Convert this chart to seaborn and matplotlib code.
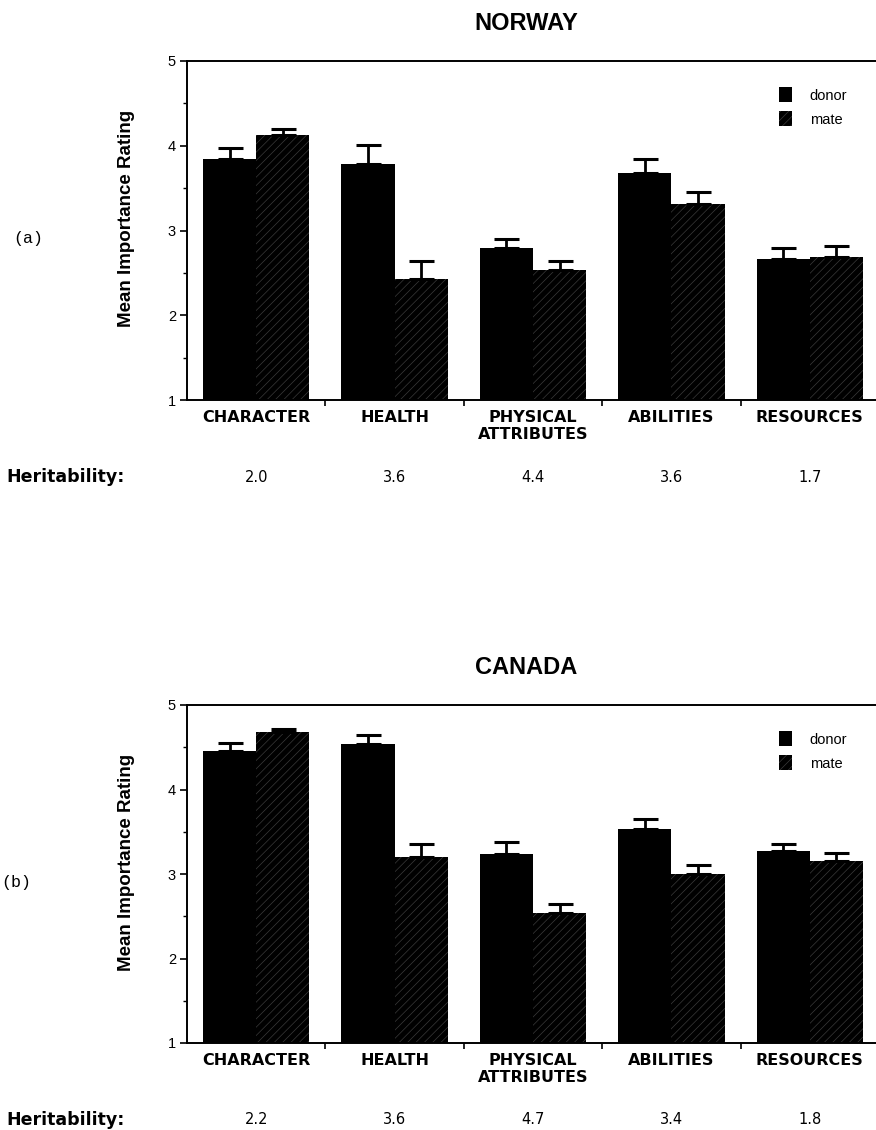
import numpy as np
import pandas as pd
import matplotlib
matplotlib.use("Agg")
import matplotlib.pyplot as plt
import matplotlib.transforms as mtransforms
import seaborn as sns
from matplotlib.ticker import MultipleLocator, FixedLocator

# ---- data ----
categories = ["CHARACTER", "HEALTH", "PHYSICAL\nATTRIBUTES", "ABILITIES", "RESOURCES"]
series = ["donor", "mate"]

norway_donor = [3.84, 3.79, 2.79, 3.68, 2.66]
norway_mate = [4.13, 2.43, 2.53, 3.31, 2.69]
norway_donor_err = [0.13, 0.22, 0.11, 0.16, 0.13]
norway_mate_err = [0.07, 0.21, 0.11, 0.14, 0.13]
norway_herit = ["2.0", "3.6", "4.4", "3.6", "1.7"]

canada_donor = [4.46, 4.54, 3.24, 3.53, 3.27]
canada_mate = [4.68, 3.20, 2.54, 3.00, 3.15]
canada_donor_err = [0.09, 0.11, 0.14, 0.12, 0.09]
canada_mate_err = [0.04, 0.16, 0.11, 0.11, 0.10]
canada_herit = ["2.2", "3.6", "4.7", "3.4", "1.8"]

yticks = [1, 2, 3, 4, 5]

sns.set_theme(style="white")
plt.rcParams["font.family"] = ["Liberation Sans", "DejaVu Sans"]
plt.rcParams["hatch.linewidth"] = 0.5
for k in ["text.color", "axes.labelcolor", "xtick.color", "ytick.color", "axes.edgecolor"]:
    plt.rcParams[k] = "black"

W, H = 876, 1130
fig = plt.figure(figsize=(W / 100, H / 100), dpi=100)
HATCH_COLOR = "#3a3a3a"

def fx(px):
    return px / W

def fy(py):
    return 1 - py / H

def panel(top_px, bot_px, title, donor, mate, derr, merr, herit, tag, tag_x):
    left_px, right_px = 187, 879
    ax = fig.add_axes([fx(left_px), fy(bot_px), fx(right_px - left_px), (bot_px - top_px) / H])
    df = pd.DataFrame({
        "cat": categories * 2,
        "who": [series[0]] * 5 + [series[1]] * 5,
        "val": list(donor) + list(mate),
    })
    sns.barplot(data=df, x="cat", y="val", hue="who", order=categories,
                hue_order=series, palette=["black", "black"], width=0.77,
                errorbar=None, ax=ax, saturation=1, linewidth=0, gap=0)
    for b in ax.containers[1]:
        b.set_hatch("////")
        b.set_edgecolor(HATCH_COLOR)
        b.set_linewidth(0)
    # error bars (upward only)
    for cont, err in zip(ax.containers, [derr, merr]):
        xs = [b.get_x() + b.get_width() / 2 for b in cont]
        ys = [b.get_y() + b.get_height() for b in cont]
        ax.errorbar(xs, ys, yerr=[np.zeros(len(err)), err], fmt="none",
                    ecolor="black", elinewidth=2.0, capsize=9, capthick=2.2, zorder=3)
    ax.set_ylim(1, 5)
    ax.set_xlim(-0.5, 4.5)
    ax.yaxis.set_major_locator(FixedLocator(yticks))
    ax.yaxis.set_minor_locator(MultipleLocator(0.5))
    ax.xaxis.set_minor_locator(FixedLocator([0.5, 1.5, 2.5, 3.5]))
    ax.tick_params(axis="y", which="major", direction="out", length=5, width=1.2,
                   left=True, labelsize=10.5, pad=3)
    ax.tick_params(axis="y", which="minor", direction="out", length=3, width=1.0, left=True)
    ax.tick_params(axis="x", which="major", length=0, pad=7)
    ax.tick_params(axis="x", which="minor", direction="out", length=4, width=1.2, bottom=True)
    ax.set_xticks(range(len(categories)))
    ax.set_xticklabels(categories, fontfamily="DejaVu Sans", fontweight="bold",
                       fontsize=11.5, linespacing=1.2)
    ax.set_yticklabels([str(t) for t in yticks])
    for s in ax.spines.values():
        s.set_color("black")
        s.set_linewidth(1.4)
    ax.set_xlabel("")
    ax.set_ylabel("Mean Importance Rating", fontsize=13.5, fontweight="bold")
    ax.yaxis.set_label_coords(-0.075, 0.535)
    ax.set_title(title, fontsize=17, fontweight="bold", pad=22, x=0.49)
    # legend
    leg = ax.get_legend()
    handles = leg.legend_handles
    leg.remove()
    handles[1].set_hatch("////")
    handles[1].set_edgecolor(HATCH_COLOR)
    handles[1].set_linewidth(0)
    ax.legend(handles, series, loc="upper left", bbox_to_anchor=(0.847, 0.94),
              frameon=False, fontsize=10.5, handlelength=0.9, handleheight=1.2,
              handletextpad=1.2, labelspacing=0.6, borderaxespad=0)
    # heritability row
    herit_y = bot_px + 77
    fig.text(fx(6), fy(herit_y), "Heritability:", fontfamily="DejaVu Sans",
             fontweight="bold", fontsize=12.5, ha="left", va="center")
    trans = mtransforms.blended_transform_factory(ax.transData, fig.transFigure)
    for i, h in enumerate(herit):
        ax.text(i, fy(herit_y), h, transform=trans, ha="center", va="center",
                fontfamily="DejaVu Sans", fontsize=10.5)
    fig.text(fx(tag_x), fy((top_px + bot_px) / 2 + 8), tag, fontfamily="Liberation Mono",
             fontsize=12, ha="left", va="center")
    return ax

panel(61, 400, "NORWAY", norway_donor, norway_mate, norway_donor_err, norway_mate_err,
      norway_herit, "(a)", 13)
panel(705, 1043, "CANADA", canada_donor, canada_mate, canada_donor_err, canada_mate_err,
      canada_herit, "(b)", 1)

fig.savefig("out.png", dpi=100)
